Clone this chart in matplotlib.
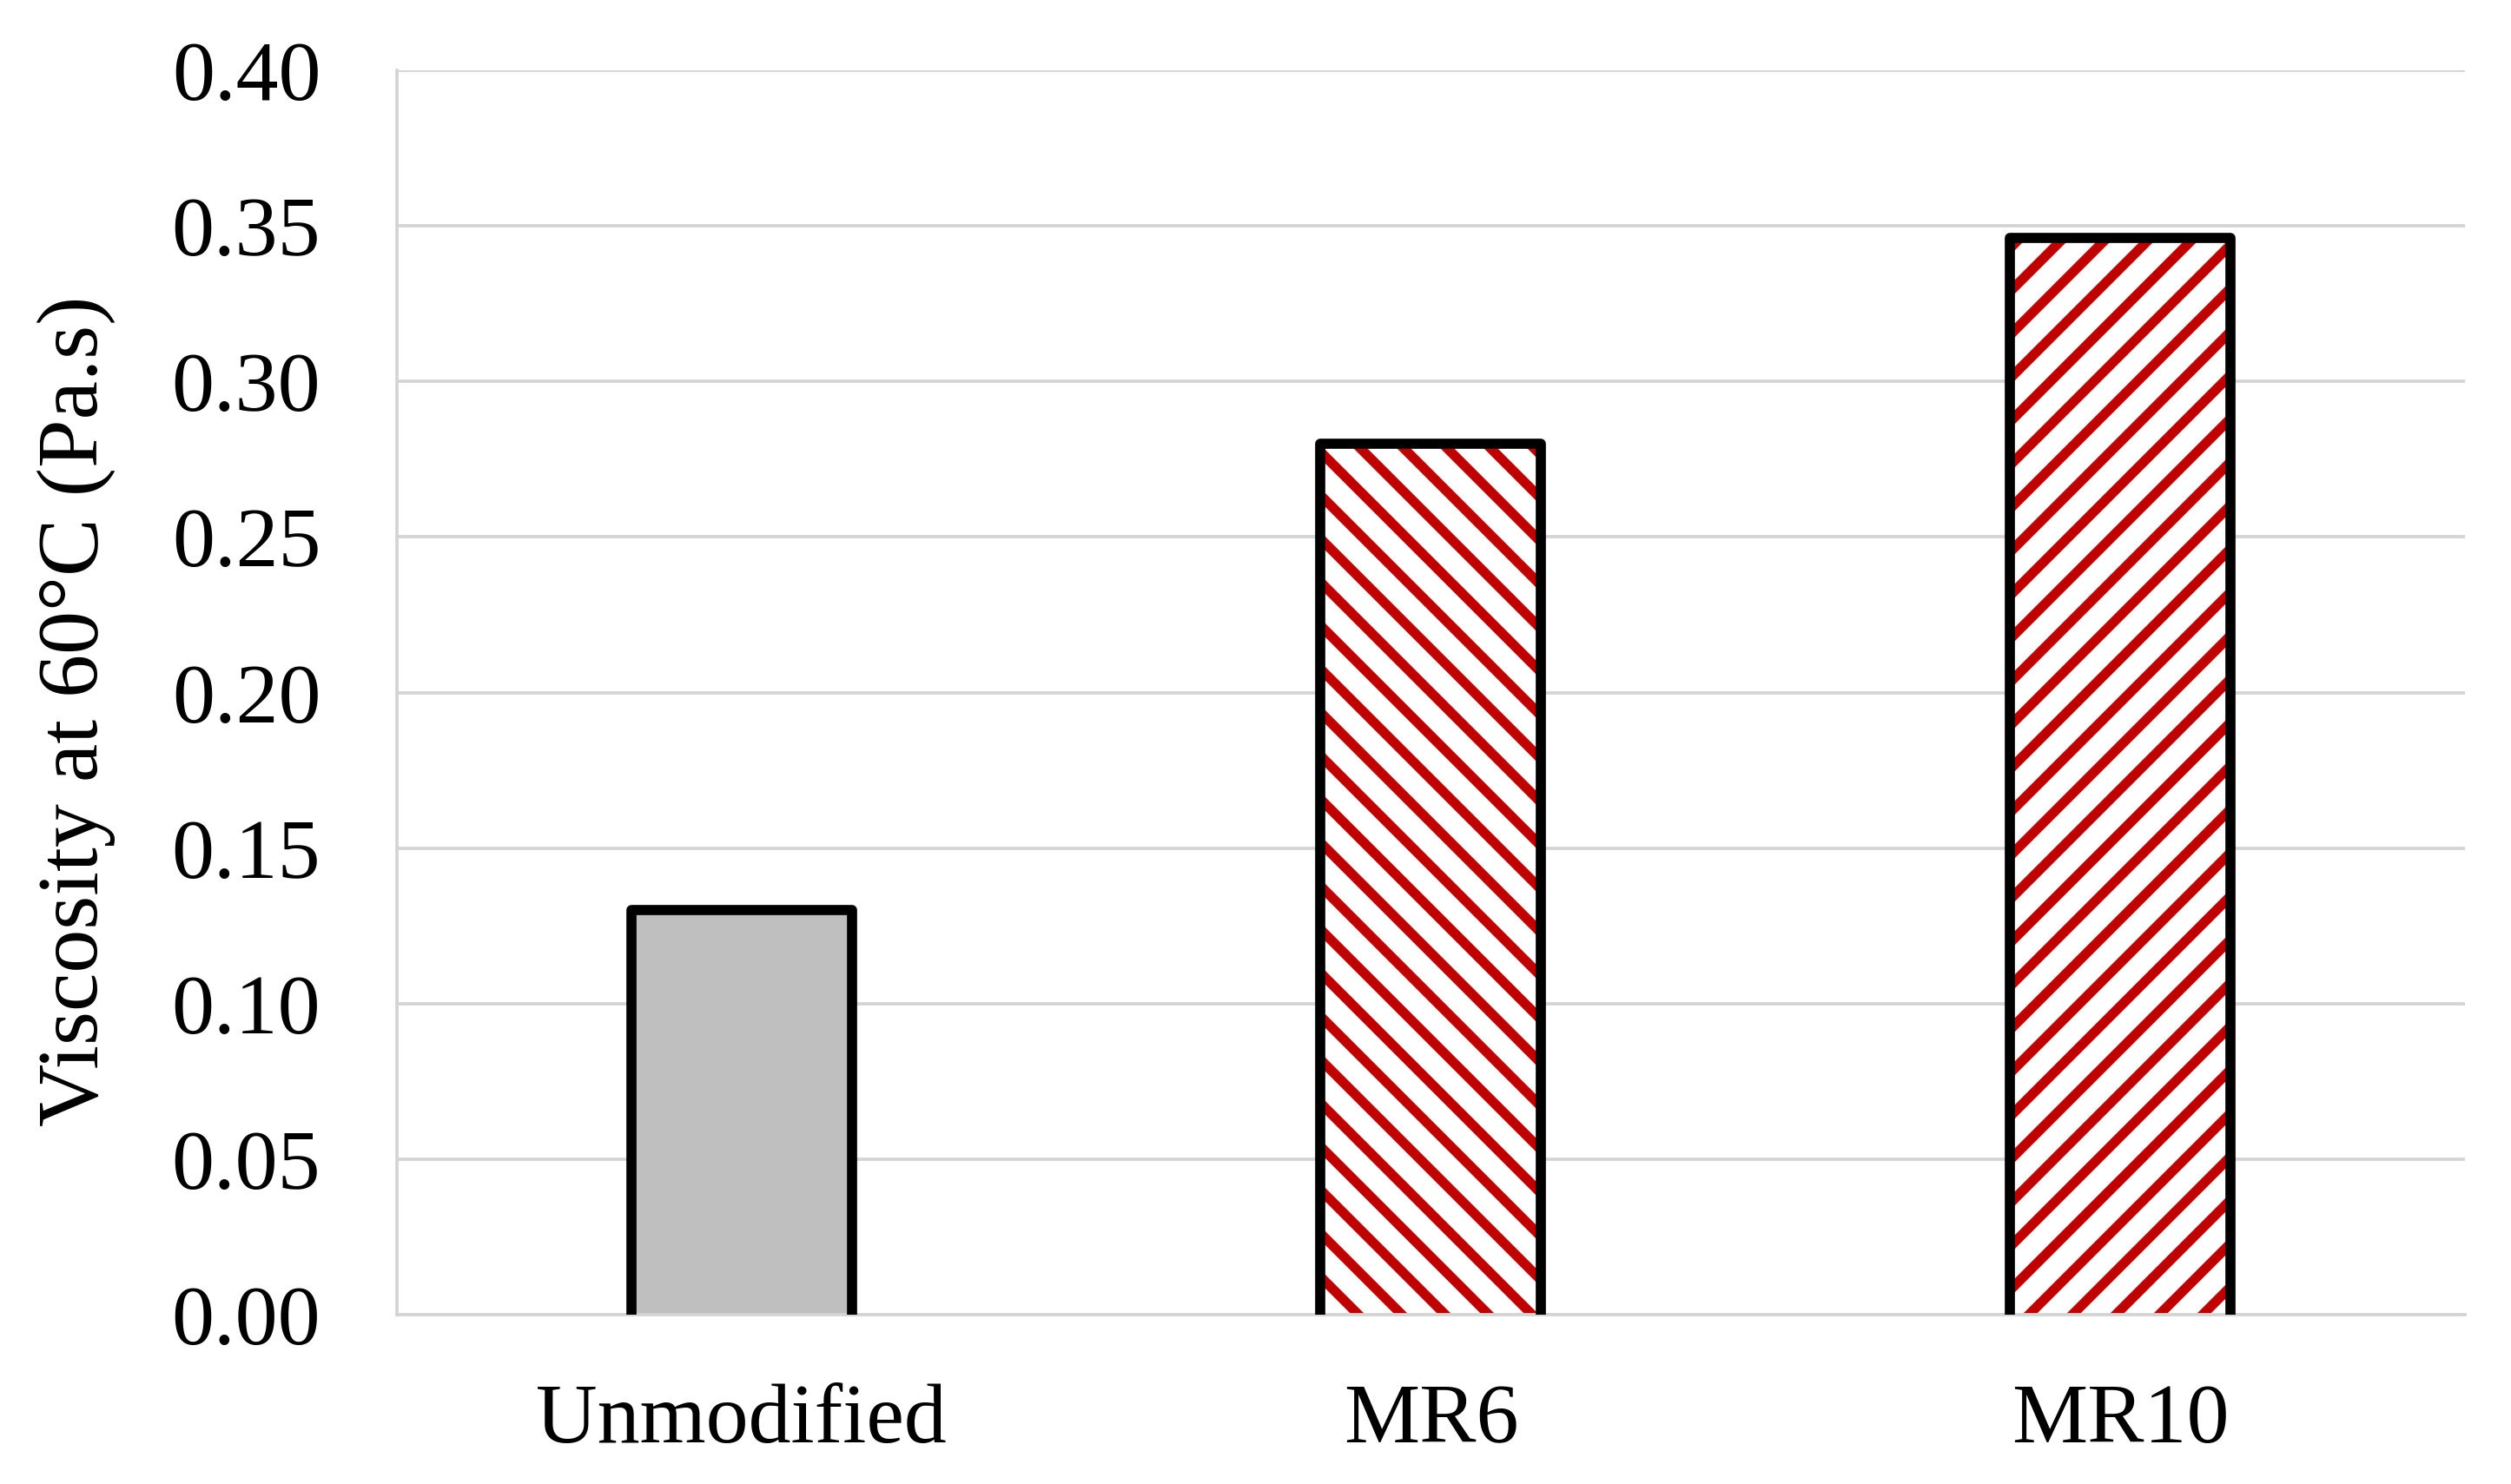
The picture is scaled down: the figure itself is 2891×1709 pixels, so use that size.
import numpy as np
import matplotlib.pyplot as plt

# data
categories = ["Unmodified", "MR6", "MR10"]
viscosity = [0.130, 0.280, 0.346]
hatches = [None, "\\\\", "//"]
fills = ["#BFBFBF", "white", "white"]

yticks = [0.00, 0.05, 0.10, 0.15, 0.20, 0.25, 0.30, 0.35, 0.40]

plt.rcParams['font.family'] = ['Liberation Serif', 'DejaVu Serif']
plt.rcParams['hatch.linewidth'] = 2.7

fig = plt.figure(figsize=(2891 / 300, 1709 / 300), dpi=300, facecolor='white')
ax = fig.add_axes([0.158, 0.1141, 0.8237, 0.8385])

x = np.arange(len(categories))
width = 0.32

for i in range(len(categories)):
    # fill + red hatch (hatch colour follows edgecolor)
    ax.bar(x[i], viscosity[i], width=width, color=fills[i], hatch=hatches[i],
           edgecolor="#C00000" if hatches[i] else fills[i], linewidth=0, zorder=2)
    # black outline on three sides, no bottom edge
    left, right = x[i] - width / 2, x[i] + width / 2
    ax.plot([left, left, right, right], [0, viscosity[i], viscosity[i], 0],
            color="black", linewidth=2.8, solid_joinstyle="round", zorder=3)

ax.set_xlim(-0.5, 2.5)
ax.set_ylim(0, 0.40)
ax.set_yticks(yticks)
ax.set_yticklabels(["%.2f" % t for t in yticks], fontsize=23.5)
ax.set_xticks(x)
ax.set_xticklabels(categories, fontsize=23.5)
ax.tick_params(axis='both', length=0)
ax.tick_params(axis='y', pad=21)
ax.tick_params(axis='x', pad=19)

ax.yaxis.grid(True, color="#D4D4D4", linewidth=0.9, zorder=0)
ax.set_axisbelow(True)

for side in ["top", "right"]:
    ax.spines[side].set_visible(False)
for side in ["left", "bottom"]:
    ax.spines[side].set_color("#D4D4D4")
    ax.spines[side].set_linewidth(0.9)

ax.set_ylabel("Viscosity at 60°C (Pa.s)", fontsize=24)
ax.yaxis.set_label_coords(-0.136, 0.485)

fig.savefig("out.png", dpi=300, facecolor='white')
